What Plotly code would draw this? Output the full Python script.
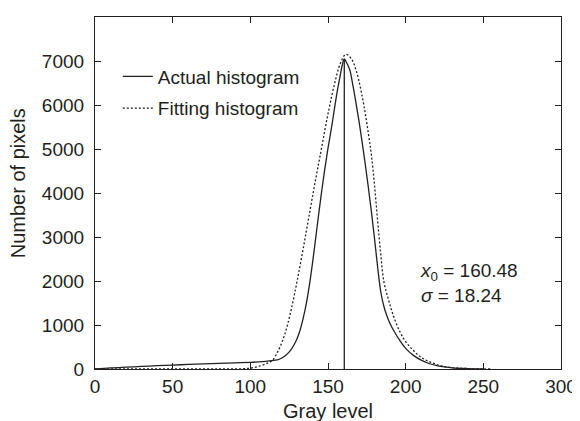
import plotly.graph_objects as go

# Actual histogram (solid)
x_actual = [0, 10, 20, 30, 40, 50, 60, 70, 80, 90, 100, 105, 110, 114, 116, 118, 120, 122, 124,
            126, 128, 130, 132, 134, 136, 138, 140, 142, 144, 146, 148, 150, 152, 154, 156, 158,
            159, 160.5, 162, 164, 166, 168, 170, 172, 174, 176, 178, 180, 182, 184, 186, 188,
            190, 193, 196, 200, 205, 210, 215, 220, 225, 230, 240, 250]
y_actual = [0, 25, 42, 58, 75, 90, 103, 115, 127, 140, 152, 162, 175, 190, 200, 215, 245, 290,
            350, 430, 540, 680, 880, 1150, 1480, 1900, 2400, 2950, 3520, 4060, 4560, 5020, 5430,
            5880, 6320, 6700, 6880, 7045, 6960, 6800, 6450, 6050, 5620, 5150, 4650, 4120, 3560,
            2950, 2300, 1750, 1420, 1200, 1030, 830, 660, 470, 310, 200, 125, 78, 47, 27, 10, 0]

# Fitting histogram (dotted)
x_fit = [0, 20, 40, 60, 80, 95, 100, 105, 110, 114, 118, 122, 126, 130, 134, 138, 142, 146,
         150, 154, 158, 161.5, 165, 168, 172, 176, 178, 180, 182, 184, 186, 189, 192, 196, 200,
         205, 209, 213, 217, 221, 225, 230, 240, 250, 255]
y_fit = [0, 0, 0, 0, 0, 5, 20, 55, 120, 190, 420, 770, 1300, 1980, 2730, 3520, 4300, 5050,
         5800, 6450, 6950, 7150, 7050, 6800, 6200, 5350, 4850, 4150, 3350, 2600, 1980, 1570,
         1220, 870, 620, 420, 290, 205, 140, 91, 55, 30, 10, 3, 0]

x0 = 160.48
sigma = 18.24
peak_actual = max(y_actual)

x_ticks = [0, 50, 100, 150, 200, 250, 300]
y_ticks = [0, 1000, 2000, 3000, 4000, 5000, 6000, 7000, 8000]

FONT = "Liberation Sans, Arial, sans-serif"
INK = "#231f20"

fig = go.Figure()
fig.add_trace(go.Scatter(
    x=x_actual, y=y_actual, mode="lines", name="Actual histogram",
    line=dict(color=INK, width=1.3, shape="spline", smoothing=1.0),
    legendgroup="a"))
fig.add_trace(go.Scatter(
    x=x_fit, y=y_fit, mode="lines", name="Fitting histogram",
    line=dict(color=INK, width=1.3, dash="2px,2px", shape="spline", smoothing=1.0),
    legendgroup="b"))
fig.add_trace(go.Scatter(
    x=[x0, x0], y=[0, peak_actual], mode="lines", showlegend=False,
    line=dict(color=INK, width=1.3)))

fig.add_annotation(
    x=208, y=1960, xref="x", yref="y", xanchor="left", yanchor="middle", align="left",
    showarrow=False,
    text=f"<i>x</i><sub>0</sub> = {x0:.2f}<br><i>σ</i> = {sigma:.2f}",
    font=dict(family=FONT, size=19, color=INK))

# axis titles
fig.add_annotation(
    x=0.5, y=-0.119, xref="paper", yref="paper", xanchor="center", yanchor="middle",
    showarrow=False, text="Gray level", font=dict(family=FONT, size=20, color=INK))
fig.add_annotation(
    x=-0.165, y=0.528, xref="paper", yref="paper", xanchor="center", yanchor="middle",
    showarrow=False, textangle=-90, text="Number of pixels",
    font=dict(family=FONT, size=20, color=INK))

axis_common = dict(
    showline=True, linecolor=INK, linewidth=1.2, mirror="ticks",
    ticks="inside", ticklen=6, tickwidth=1.2, tickcolor=INK,
    showgrid=False, zeroline=False,
    tickfont=dict(family=FONT, size=19, color=INK),
)

fig.update_xaxes(range=[0, 300], tickvals=x_ticks, ticktext=[str(v) for v in x_ticks],
                 ticklabelstandoff=0, **axis_common)
fig.update_yaxes(range=[0, 8000], tickvals=y_ticks, ticktext=[str(v) for v in y_ticks],
                 ticklabelstandoff=6, **axis_common)

fig.update_layout(
    width=572, height=413,
    margin=dict(l=87, r=19, t=9, b=52, autoexpand=False),
    paper_bgcolor="white", plot_bgcolor="white",
    showlegend=True,
    legend=dict(x=0.049, y=0.885, xanchor="left", yanchor="top",
                bgcolor="rgba(0,0,0,0)", borderwidth=0,
                font=dict(family=FONT, size=19, color=INK),
                itemwidth=30, tracegroupgap=4),
)

fig.write_html("out.html")
